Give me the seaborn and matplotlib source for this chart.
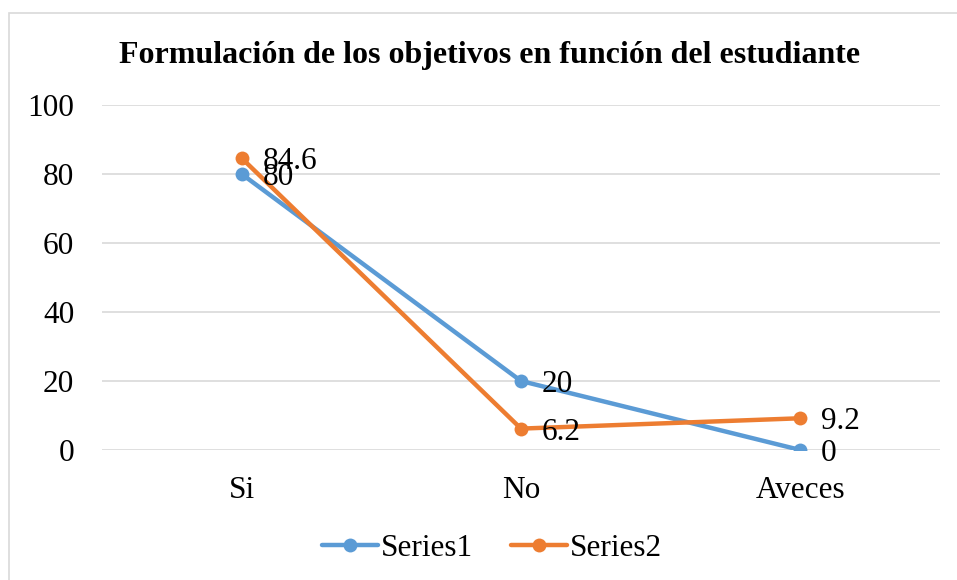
import pandas as pd
import matplotlib.pyplot as plt
import seaborn as sns
from matplotlib.lines import Line2D

# -------------------------------
# Data
# -------------------------------
categories = ["Si", "No", "Aveces"]
series1 = [80, 20, 0]
series2 = [84.6, 6.2, 9.2]
series_names = ["Series1", "Series2"]
colors = ["#5B9BD5", "#ED7D31"]

df = pd.DataFrame({
    "categoria": categories * 2,
    "pos": list(range(len(categories))) * 2,
    "valor": series1 + series2,
    "serie": [series_names[0]] * 3 + [series_names[1]] * 3,
})

# -------------------------------
# Plot
# -------------------------------
sns.set_style("white")
plt.rcParams["font.family"] = ["Liberation Serif", "DejaVu Serif"]
plt.rcParams["text.color"] = "black"
plt.rcParams["xtick.color"] = "black"
plt.rcParams["ytick.color"] = "black"

fig = plt.figure(figsize=(9.57, 5.8), dpi=100)
ax = fig.add_axes([102 / 957, 1 - 450 / 580, (940 - 102) / 957, (450 - 105) / 580])

sns.lineplot(data=df, x="pos", y="valor", hue="serie", palette=colors,
             marker="o", markersize=10, markeredgewidth=0, linewidth=3.2,
             legend=False, ax=ax, zorder=3)

# data labels to the right of each point
for name, vals in zip(series_names, [series1, series2]):
    for i, v in enumerate(vals):
        ax.annotate(f"{v:g}", (i, v), xytext=(15, 0), textcoords="offset points",
                    ha="left", va="center_baseline", fontsize=22.5, zorder=4)

ax.set_xlim(-0.5, 2.5)
ax.set_ylim(0, 100)
ax.set_xticks(range(len(categories)))
ax.set_xticklabels(categories)
ax.set_yticks([0, 20, 40, 60, 80, 100])
ax.tick_params(axis="both", length=0, labelsize=22.5)
ax.tick_params(axis="x", pad=19)
ax.tick_params(axis="y", pad=20)
ax.set_xlabel("")
ax.set_ylabel("")
ax.yaxis.grid(True, color="#D9D9D9", linewidth=1.2)
ax.set_axisbelow(True)
sns.despine(ax=ax, left=True, bottom=True)

fig.text(490 / 957, 1 - 55 / 580, "Formulación de los objetivos en función del estudiante",
         ha="center", va="center", fontsize=23, fontweight="bold")

handles = [Line2D([0], [0], color=c, linewidth=3.2, marker="o", markersize=10,
                  markeredgewidth=0) for c in colors]
fig.legend(handles, series_names, loc="center", bbox_to_anchor=(492 / 957, 1 - 548 / 580),
           ncol=2, frameon=False, fontsize=22.5, handlelength=1.8, handletextpad=0.1,
           columnspacing=1.2)

# outer chart border (left/top visible)
fig.add_artist(plt.Rectangle((9 / 957, -0.05), 1.0, 1 - 13 / 580 + 0.05,
                             transform=fig.transFigure, fill=False,
                             edgecolor="#D9D9D9", linewidth=1.2))

plt.savefig("out.png", dpi=100)
plt.close()
